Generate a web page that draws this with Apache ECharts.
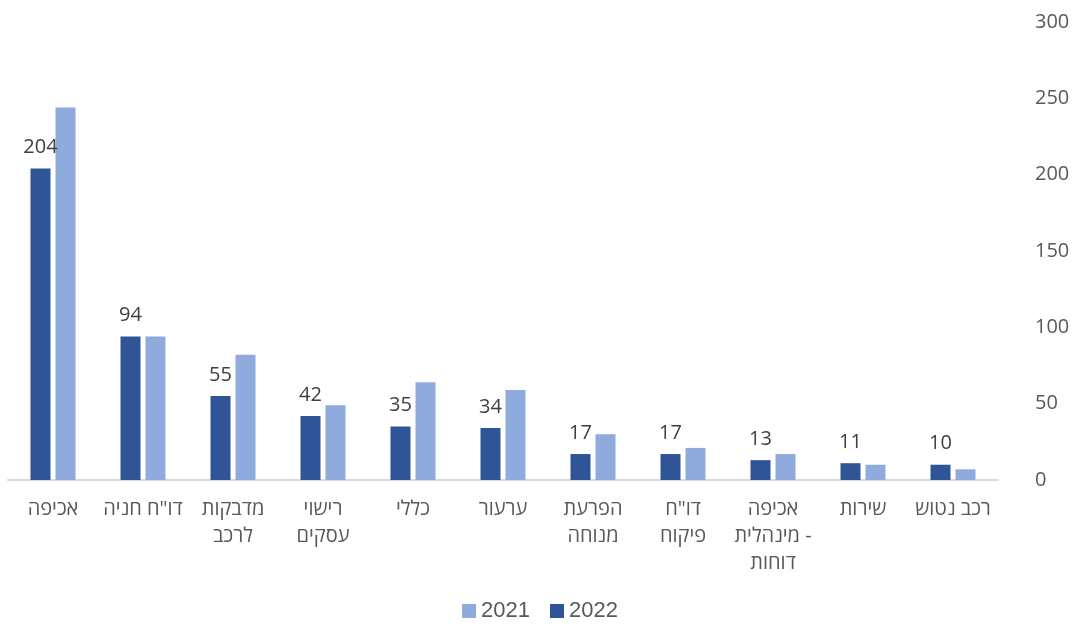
<!DOCTYPE html>
<html>
<head>
<meta charset="utf-8">
<script src="https://cdn.jsdelivr.net/npm/echarts@6/dist/echarts.min.js"></script>
<style>
html,body{margin:0;padding:0;background:#fff;}
#main{width:1080px;height:630px;}
</style>
</head>
<body>
<div id="main"></div>
<script>
// categories left to right, as in the original
const categories = ['אכיפה', 'דו"ח חניה', 'מדבקות\nלרכב', 'רישוי\nעסקים', 'כללי', 'ערעור',
  'הפרעת\nמנוחה', 'דו"ח\nפיקוח', 'אכיפה\nמינהלית -\nדוחות', 'שירות', 'רכב נטוש'];
const values2022 = [204, 94, 55, 42, 35, 34, 17, 17, 13, 11, 10];
const values2021 = [244, 94, 82, 49, 64, 59, 30, 21, 17, 10, 7];
const yTicks = [0, 50, 100, 150, 200, 250, 300];

const font = "'Open Sans', 'DejaVu Sans', sans-serif";
const myChart = echarts.init(document.getElementById('main'));

const option = {
  animation: false,
  textStyle: { fontFamily: font },
  legend: {
    data: ['2021', '2022'],
    bottom: 3,
    left: 'center',
    itemWidth: 14,
    itemHeight: 14,
    itemGap: 20,
    icon: 'rect',
    textStyle: { fontSize: 22, color: '#595959', fontFamily: "'Liberation Sans', Arial, sans-serif" }
  },
  grid: { left: 8, right: 82, top: 22, bottom: 150 },
  xAxis: {
    type: 'category',
    data: categories,
    axisLine: { lineStyle: { color: '#d9d9d9', width: 2 } },
    axisTick: { show: false },
    axisLabel: {
      interval: 0,
      margin: 16,
      fontSize: 20,
      lineHeight: 27,
      color: '#595959',
      fontFamily: font,
      verticalAlign: 'top'
    }
  },
  yAxis: {
    type: 'value',
    position: 'right',
    min: yTicks[0],
    max: yTicks[yTicks.length - 1],
    interval: 50,
    splitLine: { show: false },
    axisLine: { show: false },
    axisTick: { show: false },
    axisLabel: { margin: 37, fontSize: 20, color: '#595959', fontFamily: font }
  },
  series: [
    {
      name: '2022',
      type: 'bar',
      data: values2022,
      barWidth: 20,
      barGap: '25%',
      itemStyle: { color: '#2f5597' },
      label: {
        show: true,
        position: 'top',
        distance: 11,
        fontSize: 20,
        color: '#404040',
        fontFamily: font
      }
    },
    {
      name: '2021',
      type: 'bar',
      data: values2021,
      barWidth: 20,
      barGap: '25%',
      itemStyle: { color: '#8faadc' }
    }
  ]
};

myChart.setOption(option);
</script>
</body>
</html>
